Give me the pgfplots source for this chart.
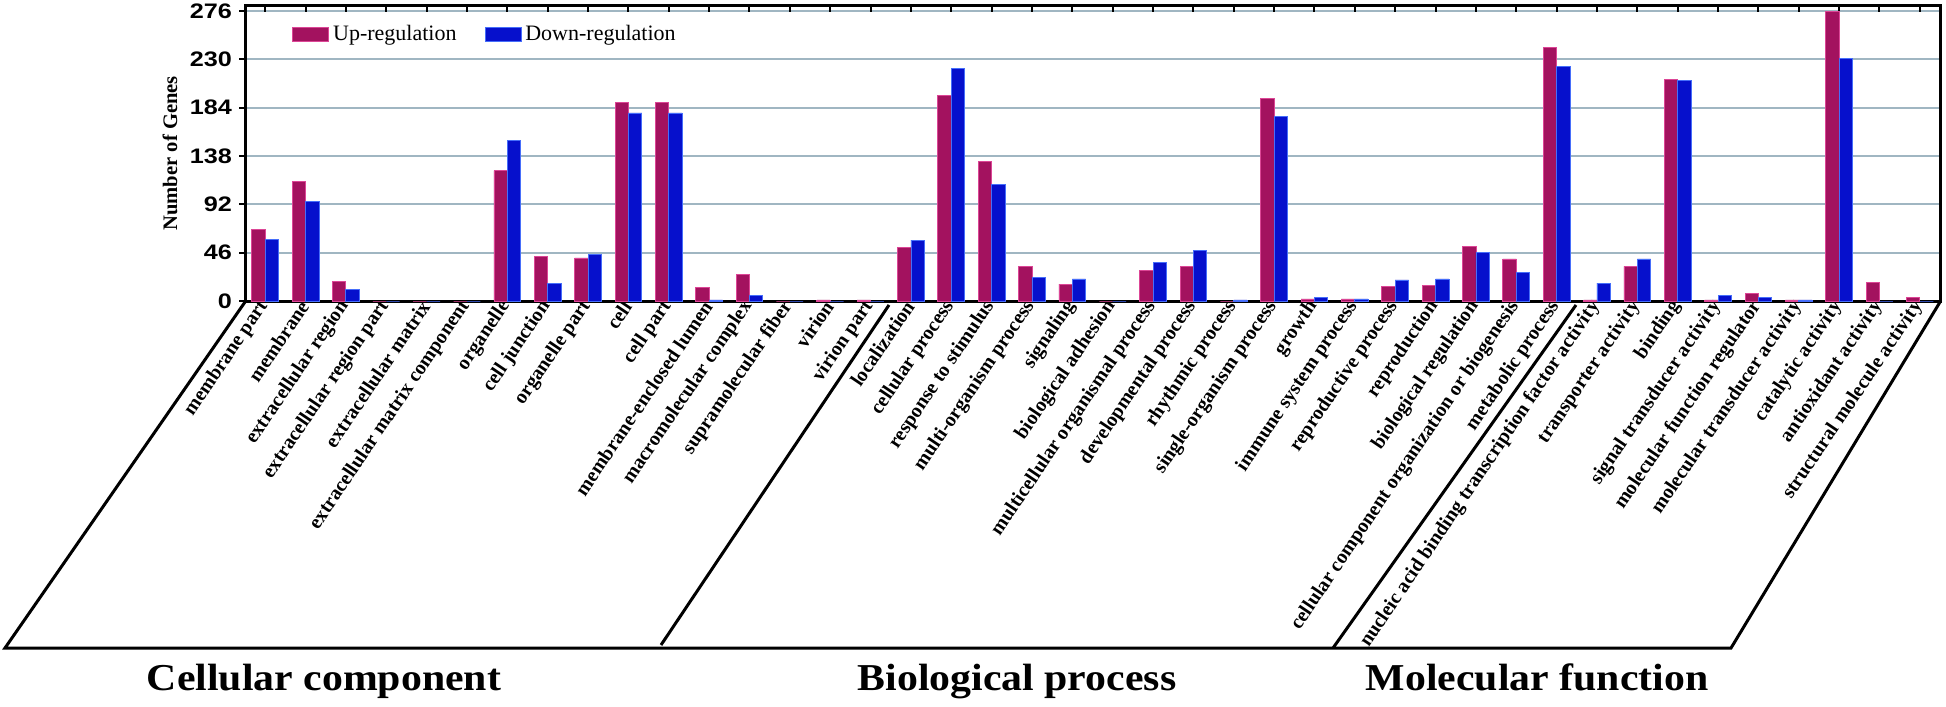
\documentclass[border=0pt]{standalone}
\usepackage{fontspec}
\setmainfont{Liberation Serif}
\newfontfamily\ticksfont{Liberation Sans}[FakeStretch=1.2]
\newfontfamily\titlefont{Liberation Serif}[FakeStretch=1.1]
\usepackage{pgfplots}
\pgfplotsset{compat=1.18}
\definecolor{upc}{RGB}{163,18,95}
\definecolor{upd}{RGB}{220,70,150}
\definecolor{downc}{RGB}{6,16,204}
\definecolor{downd}{RGB}{70,110,250}
\definecolor{gridc}{RGB}{160,182,194}
\begin{document}
\begin{tikzpicture}
\useasboundingbox (0,0) rectangle (973pt,-353pt);
\begin{axis}[
  at={(122.5pt,-150.5pt)}, anchor=south west,
  scale only axis, width=847.5pt, height=147.6pt,
  xmin=-0.5, xmax=41.5, ymin=0, ymax=281,
  ybar=0pt, bar width=6.7pt,
  ytick={0,46,...,276},
  xtick={0,...,41},
  xticklabels={membrane part, membrane, extracellular region, extracellular region part, extracellular matrix, extracellular matrix component, organelle, cell junction, organelle part, cell, cell part, membrane-enclosed lumen, macromolecular complex, supramolecular fiber, virion, virion part, localization, cellular process, response to stimulus, multi-organism process, signaling, biological adhesion, multicellular organismal process, developmental process, rhythmic process, single-organism process, growth, immune system process, reproductive process, reproduction, biological regulation, cellular component organization or biogenesis, metabolic process, nucleic acid binding transcription factor activity, transporter activity, binding, signal transducer activity, molecular function regulator, molecular transducer activity, catalytic activity, antioxidant activity, structural molecule activity},
  axis line style={line width=1.5pt},
  ymajorgrids, major grid style={gridc, line width=1.1pt},
  xtick pos=right, xticklabel pos=left, ytick pos=left,
  xtick align=inside, ytick align=outside,
  major tick length=3pt,
  tick style={black, line width=1pt},
  xticklabel style={rotate=56, anchor=east, font=\bfseries\fontsize{10}{10}\selectfont, inner sep=1pt},
  yticklabel style={font=\ticksfont\bfseries\fontsize{10.5}{10.5}\selectfont},
  /pgf/number format/assume math mode=true,
  ylabel={Number of Genes},
  ylabel style={at={(axis description cs:-0.0442,0.5)}, anchor=center, font=\bfseries\fontsize{10.3}{10.3}\selectfont},
  legend columns=2,
  legend style={at={(axis description cs:0.0277,0.9017)}, anchor=west, draw=none, fill=none, inner sep=0pt, font=\fontsize{11}{11}\selectfont, /tikz/every even column/.append style={column sep=12pt}},
  legend image code/.code={\draw[#1] (0pt,-3.5pt) rectangle (18pt,3.5pt);},
]
\addplot[fill=upc, draw=upd, line width=0.4pt] coordinates {
(0,68) (1,114) (2,19) (3,0) (4,0) (5,0) (6,124) (7,42) (8,41) (9,189) (10,189) (11,13) (12,25) (13,0) (14,1) (15,1)
(16,51) (17,196) (18,133) (19,33) (20,16) (21,0) (22,29) (23,33) (24,0) (25,193) (26,2) (27,2) (28,14) (29,15) (30,52) (31,40) (32,241)
(33,1) (34,33) (35,211) (36,1) (37,7) (38,1) (39,276) (40,18) (41,3)};
\addplot[fill=downc, draw=downd, line width=0.4pt] coordinates {
(0,59) (1,95) (2,11) (3,0) (4,0) (5,0) (6,153) (7,17) (8,44) (9,179) (10,179) (11,1) (12,5) (13,0) (14,0) (15,0)
(16,58) (17,221) (18,111) (19,22) (20,21) (21,0) (22,37) (23,48) (24,1) (25,176) (26,3) (27,2) (28,20) (29,21) (30,46) (31,27) (32,223)
(33,17) (34,40) (35,210) (36,5) (37,3) (38,1) (39,231) (40,0) (41,0)};
\legend{Up-regulation, Down-regulation}
\end{axis}
\begin{scope}[x=0.5pt, y=-0.5pt, line width=1.5pt]
\draw (245,302) -- (5,648) -- (1731,648) -- (1940,302);
\draw (889,305) -- (661,645);
\draw (1576,305) -- (1333,648);
\node[anchor=base, font=\titlefont\bfseries\fontsize{19}{19}\selectfont] at (324,690) {Cellular component};
\node[anchor=base, font=\titlefont\bfseries\fontsize{19}{19}\selectfont] at (1017,690) {Biological process};
\node[anchor=base, font=\titlefont\bfseries\fontsize{19}{19}\selectfont] at (1537,690) {Molecular function};
\end{scope}
\end{tikzpicture}
\end{document}
